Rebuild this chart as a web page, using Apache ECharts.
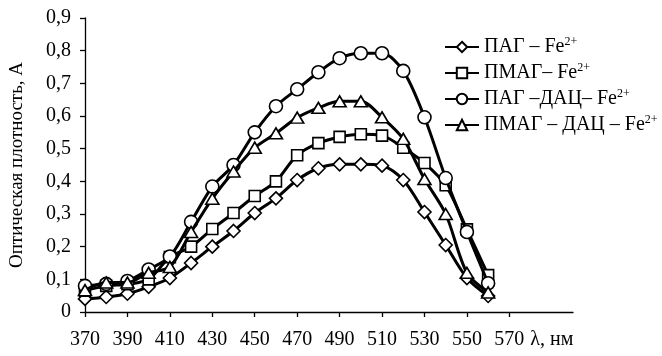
<!DOCTYPE html>
<html>
<head>
<meta charset="utf-8">
<script src="https://cdn.jsdelivr.net/npm/echarts@6/dist/echarts.min.js"></script>
<style>
  html, body { margin: 0; padding: 0; background: #fff; }
  #chart { width: 662px; height: 356px; }
</style>
</head>
<body>
<div id="chart"></div>
<script>
const wavelengths = [370, 380, 390, 400, 410, 420, 430, 440, 450, 460, 470, 480, 490, 500, 510, 520, 530, 540, 550, 560];

const pag = [0.04, 0.046, 0.056, 0.077, 0.104, 0.15, 0.2, 0.248, 0.303, 0.348, 0.404, 0.44, 0.452, 0.452, 0.448, 0.404, 0.306, 0.205, 0.104, 0.049];
const pmag = [0.065, 0.08, 0.085, 0.1, 0.168, 0.2, 0.254, 0.303, 0.355, 0.4, 0.48, 0.517, 0.536, 0.544, 0.54, 0.503, 0.456, 0.388, 0.253, 0.113];
const pagDac = [0.08, 0.086, 0.095, 0.13, 0.17, 0.276, 0.384, 0.45, 0.55, 0.63, 0.682, 0.734, 0.777, 0.792, 0.792, 0.738, 0.596, 0.41, 0.245, 0.088];
const pmagDac = [0.067, 0.09, 0.09, 0.12, 0.138, 0.245, 0.347, 0.43, 0.503, 0.547, 0.595, 0.625, 0.645, 0.645, 0.596, 0.53, 0.407, 0.3, 0.12, 0.06];

const seriesNames = ['ПАГ – Fe', 'ПМАГ– Fe', 'ПАГ –ДАЦ– Fe', 'ПМАГ – ДАЦ – Fe'];
const seriesSymbols = ['diamond', 'rect', 'circle', 'triangle'];
const seriesData = [pag, pmag, pagDac, pmagDac];

const xTicks = [370, 390, 410, 430, 450, 470, 490, 510, 530, 550, 570];
const xLabels = [370, 390, 410, 430, 450, 470, 490, 510, 530, 550, 570, 590];
const xUnit = 'λ, нм';
const yName = 'Оптическая плотность, А';

const font = "'Liberation Serif', 'Times New Roman', serif";
const symbolSizes = { diamond: [13, 13], rect: [11, 11], circle: 13, triangle: [13, 11] };

const chart = echarts.init(document.getElementById('chart'));

const series = seriesNames.map((name, i) => ({
  name: name,
  type: 'line',
  smooth: 0.3,
  data: wavelengths.map((w, j) => [w, seriesData[i][j]]),
  symbol: seriesSymbols[i],
  symbolSize: symbolSizes[seriesSymbols[i]],
  showAllSymbol: true,
  itemStyle: { color: '#fff', borderColor: '#000', borderWidth: 1.6 },
  lineStyle: { color: '#000', width: 3 },
  z: 2 + i
}));

chart.setOption({
  animation: false,
  backgroundColor: '#fff',
  grid: { left: 81, right: 89, top: 18, bottom: 44 },
  legend: {
    orient: 'vertical',
    left: 439,
    top: 31,
    itemWidth: 34,
    itemHeight: 13,
    itemGap: 5,
    data: seriesNames,
    formatter: name => '{a|' + name + '}{s|2+}',
    textStyle: {
      color: '#000',
      fontFamily: font,
      rich: {
        a: { fontSize: 20, fontFamily: font, color: '#000', lineHeight: 22 },
        s: { fontSize: 12, fontFamily: font, color: '#000', verticalAlign: 'top', lineHeight: 11 }
      }
    }
  },
  xAxis: {
    type: 'value',
    min: 370,
    max: 600,
    interval: 20,
    axisLine: { lineStyle: { color: '#000', width: 1.3 } },
    axisTick: { length: 5, lineStyle: { color: '#000', width: 1.3 }, customValues: xTicks },
    axisLabel: {
      customValues: xLabels,
      color: '#000',
      fontFamily: font,
      fontSize: 20,
      margin: 18,
      formatter: v => (v === 590 ? xUnit : String(v))
    },
    splitLine: { show: false }
  },
  yAxis: {
    type: 'value',
    min: 0,
    max: 0.9,
    interval: 0.1,
    name: yName,
    nameLocation: 'middle',
    nameGap: 58,
    nameRotate: 90,
    nameTextStyle: { color: '#000', fontFamily: font, fontSize: 19 },
    axisLine: { show: true, lineStyle: { color: '#000', width: 1.3 } },
    axisTick: { show: true, length: 5, lineStyle: { color: '#000', width: 1.3 } },
    axisLabel: {
      color: '#000',
      fontFamily: font,
      fontSize: 20,
      margin: 14,
      formatter: v => (v === 0 ? '0' : v.toFixed(1).replace('.', ','))
    },
    splitLine: { show: false }
  },
  series: series
});
</script>
</body>
</html>
